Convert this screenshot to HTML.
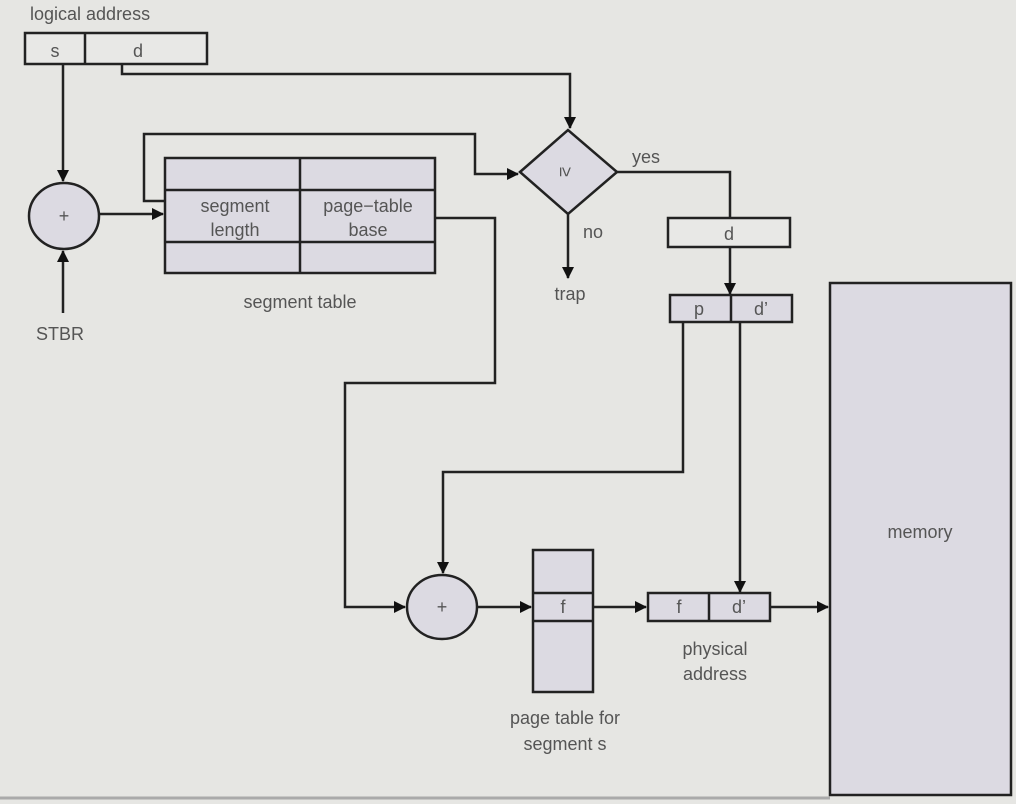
<!DOCTYPE html>
<html><head><style>
html,body{margin:0;padding:0;background:#e6e6e3;}
svg{display:block;}
text{font-family:"Liberation Sans",sans-serif;fill:#555;font-size:18px;}
</style></head><body>
<svg width="1016" height="804" viewBox="0 0 1016 804">
<defs><marker id="a" markerWidth="12" markerHeight="12" refX="11" refY="6" orient="auto" markerUnits="userSpaceOnUse"><path d="M0,0 L12,6 L0,12 Z" fill="#111"/></marker></defs>
<rect width="1016" height="804" fill="#e6e6e3"/>
<g stroke="#222" stroke-width="2.5" fill="none">
<rect x="25" y="33" width="182" height="31" fill="#e8e8e6"/>
<line x1="85" y1="33" x2="85" y2="64"/>
<line x1="63" y1="64" x2="63" y2="181" marker-end="url(#a)"/>
<ellipse cx="64" cy="216" rx="35" ry="33" fill="#dcdae2"/>
<line x1="63" y1="313" x2="63" y2="251" marker-end="url(#a)"/>
<polyline points="122,64 122,74 570,74 570,128" marker-end="url(#a)"/>
<line x1="99" y1="214" x2="163" y2="214" marker-end="url(#a)"/>
<rect x="165" y="158" width="270" height="115" fill="#dcdae2"/>
<line x1="165" y1="190" x2="435" y2="190"/>
<line x1="165" y1="242" x2="435" y2="242"/>
<line x1="300" y1="158" x2="300" y2="273"/>
<polyline points="165,201 144,201 144,134 475,134 475,174 518,174" marker-end="url(#a)"/>
<polygon points="520,172 568,130 617,172 568,214" fill="#dcdae2"/>
<polyline points="617,172 730,172 730,218"/>
<line x1="568" y1="214" x2="568" y2="278" marker-end="url(#a)"/>
<rect x="668" y="218" width="122" height="29" fill="#e8e8e6"/>
<line x1="730" y1="247" x2="730" y2="294" marker-end="url(#a)"/>
<rect x="670" y="295" width="122" height="27" fill="#dcdae2"/>
<line x1="731" y1="295" x2="731" y2="322"/>
<polyline points="435,218 495,218 495,383 345,383 345,607 405,607" marker-end="url(#a)"/>
<ellipse cx="442" cy="607" rx="35" ry="32" fill="#dcdae2"/>
<polyline points="683,322 683,472 443,472 443,573" marker-end="url(#a)"/>
<line x1="740" y1="322" x2="740" y2="592" marker-end="url(#a)"/>
<line x1="477" y1="607" x2="531" y2="607" marker-end="url(#a)"/>
<rect x="533" y="550" width="60" height="142" fill="#dcdae2"/>
<line x1="533" y1="593" x2="593" y2="593"/>
<line x1="533" y1="621" x2="593" y2="621"/>
<line x1="593" y1="607" x2="646" y2="607" marker-end="url(#a)"/>
<rect x="648" y="593" width="122" height="28" fill="#dcdae2"/>
<line x1="709" y1="593" x2="709" y2="621"/>
<line x1="770" y1="607" x2="828" y2="607" marker-end="url(#a)"/>
<rect x="830" y="283" width="181" height="512" fill="#dcdae2"/>
</g>
<line x1="0" y1="798" x2="830" y2="798" stroke="#aaa" stroke-width="3"/>
<text x="30" y="20">logical address</text>
<text x="55" y="57" text-anchor="middle">s</text>
<text x="138" y="57" text-anchor="middle">d</text>
<text x="64" y="222" text-anchor="middle" font-size="16">+</text>
<text x="60" y="340" text-anchor="middle">STBR</text>
<text x="235" y="212" text-anchor="middle">segment</text>
<text x="235" y="236" text-anchor="middle">length</text>
<text x="368" y="212" text-anchor="middle">page−table</text>
<text x="368" y="236" text-anchor="middle">base</text>
<text x="300" y="308" text-anchor="middle">segment table</text>
<text x="568" y="180" text-anchor="middle" font-size="24" transform="rotate(90 568 172)">≥</text>
<text x="632" y="163">yes</text>
<text x="583" y="238">no</text>
<text x="570" y="300" text-anchor="middle">trap</text>
<text x="729" y="240" text-anchor="middle">d</text>
<text x="699" y="315" text-anchor="middle">p</text>
<text x="761" y="315" text-anchor="middle">d’</text>
<text x="442" y="613" text-anchor="middle" font-size="16">+</text>
<text x="563" y="613" text-anchor="middle">f</text>
<text x="679" y="613" text-anchor="middle">f</text>
<text x="739" y="613" text-anchor="middle">d’</text>
<text x="715" y="655" text-anchor="middle">physical</text>
<text x="715" y="680" text-anchor="middle">address</text>
<text x="565" y="724" text-anchor="middle">page table for</text>
<text x="565" y="750" text-anchor="middle">segment s</text>
<text x="920" y="538" text-anchor="middle">memory</text>
</svg>
</body></html>
